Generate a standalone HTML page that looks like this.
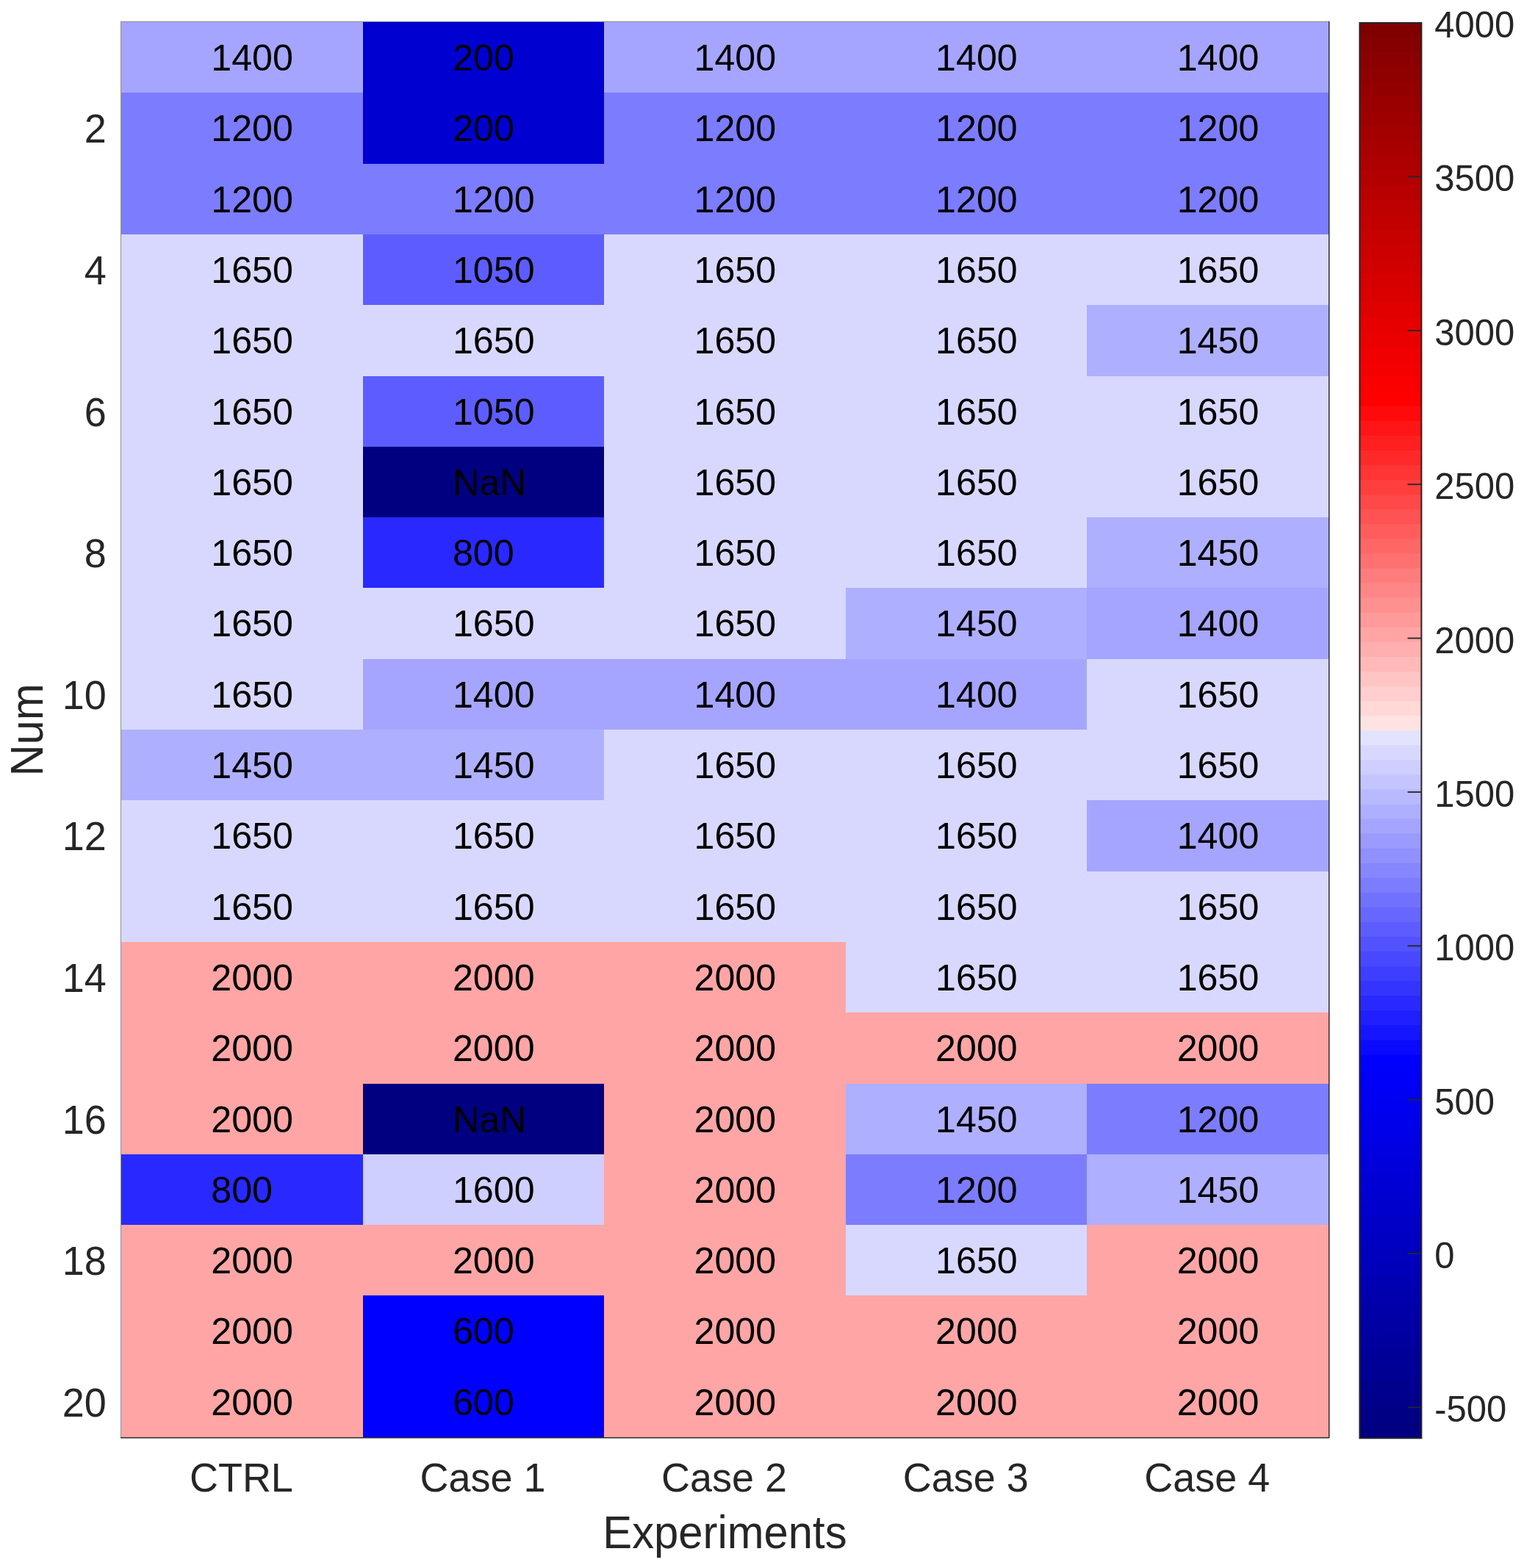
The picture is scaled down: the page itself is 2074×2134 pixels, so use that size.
<!DOCTYPE html>
<html><head><meta charset="utf-8"><title>Heatmap</title>
<style>
html,body{margin:0;padding:0;background:#fff;}
body{width:2074px;height:2134px;overflow:hidden;}
svg{display:block;}
text{font-family:"Liberation Sans",Arial,Helvetica,sans-serif;}
</style></head><body>
<svg width="2074" height="2134" viewBox="0 0 2074 2134" shape-rendering="crispEdges">
<rect width="2074" height="2134" fill="#fff"/>
<g><rect x="165.00" y="30.00" width="328.62" height="96.32" fill="#a5a5ff"/>
<rect x="493.60" y="30.00" width="328.62" height="96.32" fill="#0000d1"/>
<rect x="822.20" y="30.00" width="328.62" height="96.32" fill="#a5a5ff"/>
<rect x="1150.80" y="30.00" width="328.62" height="96.32" fill="#a5a5ff"/>
<rect x="1479.40" y="30.00" width="328.62" height="96.32" fill="#a5a5ff"/>
<rect x="165.00" y="126.30" width="328.62" height="96.32" fill="#7c7cff"/>
<rect x="493.60" y="126.30" width="328.62" height="96.32" fill="#0000d1"/>
<rect x="822.20" y="126.30" width="328.62" height="96.32" fill="#7c7cff"/>
<rect x="1150.80" y="126.30" width="328.62" height="96.32" fill="#7c7cff"/>
<rect x="1479.40" y="126.30" width="328.62" height="96.32" fill="#7c7cff"/>
<rect x="165.00" y="222.60" width="328.62" height="96.32" fill="#7c7cff"/>
<rect x="493.60" y="222.60" width="328.62" height="96.32" fill="#7c7cff"/>
<rect x="822.20" y="222.60" width="328.62" height="96.32" fill="#7c7cff"/>
<rect x="1150.80" y="222.60" width="328.62" height="96.32" fill="#7c7cff"/>
<rect x="1479.40" y="222.60" width="328.62" height="96.32" fill="#7c7cff"/>
<rect x="165.00" y="318.90" width="328.62" height="96.32" fill="#d8d8ff"/>
<rect x="493.60" y="318.90" width="328.62" height="96.32" fill="#5d5dff"/>
<rect x="822.20" y="318.90" width="328.62" height="96.32" fill="#d8d8ff"/>
<rect x="1150.80" y="318.90" width="328.62" height="96.32" fill="#d8d8ff"/>
<rect x="1479.40" y="318.90" width="328.62" height="96.32" fill="#d8d8ff"/>
<rect x="165.00" y="415.20" width="328.62" height="96.32" fill="#d8d8ff"/>
<rect x="493.60" y="415.20" width="328.62" height="96.32" fill="#d8d8ff"/>
<rect x="822.20" y="415.20" width="328.62" height="96.32" fill="#d8d8ff"/>
<rect x="1150.80" y="415.20" width="328.62" height="96.32" fill="#d8d8ff"/>
<rect x="1479.40" y="415.20" width="328.62" height="96.32" fill="#afafff"/>
<rect x="165.00" y="511.50" width="328.62" height="96.32" fill="#d8d8ff"/>
<rect x="493.60" y="511.50" width="328.62" height="96.32" fill="#5d5dff"/>
<rect x="822.20" y="511.50" width="328.62" height="96.32" fill="#d8d8ff"/>
<rect x="1150.80" y="511.50" width="328.62" height="96.32" fill="#d8d8ff"/>
<rect x="1479.40" y="511.50" width="328.62" height="96.32" fill="#d8d8ff"/>
<rect x="165.00" y="607.80" width="328.62" height="96.32" fill="#d8d8ff"/>
<rect x="493.60" y="607.80" width="328.62" height="96.32" fill="#000080"/>
<rect x="822.20" y="607.80" width="328.62" height="96.32" fill="#d8d8ff"/>
<rect x="1150.80" y="607.80" width="328.62" height="96.32" fill="#d8d8ff"/>
<rect x="1479.40" y="607.80" width="328.62" height="96.32" fill="#d8d8ff"/>
<rect x="165.00" y="704.10" width="328.62" height="96.32" fill="#d8d8ff"/>
<rect x="493.60" y="704.10" width="328.62" height="96.32" fill="#2929ff"/>
<rect x="822.20" y="704.10" width="328.62" height="96.32" fill="#d8d8ff"/>
<rect x="1150.80" y="704.10" width="328.62" height="96.32" fill="#d8d8ff"/>
<rect x="1479.40" y="704.10" width="328.62" height="96.32" fill="#afafff"/>
<rect x="165.00" y="800.40" width="328.62" height="96.32" fill="#d8d8ff"/>
<rect x="493.60" y="800.40" width="328.62" height="96.32" fill="#d8d8ff"/>
<rect x="822.20" y="800.40" width="328.62" height="96.32" fill="#d8d8ff"/>
<rect x="1150.80" y="800.40" width="328.62" height="96.32" fill="#afafff"/>
<rect x="1479.40" y="800.40" width="328.62" height="96.32" fill="#a5a5ff"/>
<rect x="165.00" y="896.70" width="328.62" height="96.32" fill="#d8d8ff"/>
<rect x="493.60" y="896.70" width="328.62" height="96.32" fill="#a5a5ff"/>
<rect x="822.20" y="896.70" width="328.62" height="96.32" fill="#a5a5ff"/>
<rect x="1150.80" y="896.70" width="328.62" height="96.32" fill="#a5a5ff"/>
<rect x="1479.40" y="896.70" width="328.62" height="96.32" fill="#d8d8ff"/>
<rect x="165.00" y="993.00" width="328.62" height="96.32" fill="#afafff"/>
<rect x="493.60" y="993.00" width="328.62" height="96.32" fill="#afafff"/>
<rect x="822.20" y="993.00" width="328.62" height="96.32" fill="#d8d8ff"/>
<rect x="1150.80" y="993.00" width="328.62" height="96.32" fill="#d8d8ff"/>
<rect x="1479.40" y="993.00" width="328.62" height="96.32" fill="#d8d8ff"/>
<rect x="165.00" y="1089.30" width="328.62" height="96.32" fill="#d8d8ff"/>
<rect x="493.60" y="1089.30" width="328.62" height="96.32" fill="#d8d8ff"/>
<rect x="822.20" y="1089.30" width="328.62" height="96.32" fill="#d8d8ff"/>
<rect x="1150.80" y="1089.30" width="328.62" height="96.32" fill="#d8d8ff"/>
<rect x="1479.40" y="1089.30" width="328.62" height="96.32" fill="#a5a5ff"/>
<rect x="165.00" y="1185.60" width="328.62" height="96.32" fill="#d8d8ff"/>
<rect x="493.60" y="1185.60" width="328.62" height="96.32" fill="#d8d8ff"/>
<rect x="822.20" y="1185.60" width="328.62" height="96.32" fill="#d8d8ff"/>
<rect x="1150.80" y="1185.60" width="328.62" height="96.32" fill="#d8d8ff"/>
<rect x="1479.40" y="1185.60" width="328.62" height="96.32" fill="#d8d8ff"/>
<rect x="165.00" y="1281.90" width="328.62" height="96.32" fill="#ffa5a5"/>
<rect x="493.60" y="1281.90" width="328.62" height="96.32" fill="#ffa5a5"/>
<rect x="822.20" y="1281.90" width="328.62" height="96.32" fill="#ffa5a5"/>
<rect x="1150.80" y="1281.90" width="328.62" height="96.32" fill="#d8d8ff"/>
<rect x="1479.40" y="1281.90" width="328.62" height="96.32" fill="#d8d8ff"/>
<rect x="165.00" y="1378.20" width="328.62" height="96.32" fill="#ffa5a5"/>
<rect x="493.60" y="1378.20" width="328.62" height="96.32" fill="#ffa5a5"/>
<rect x="822.20" y="1378.20" width="328.62" height="96.32" fill="#ffa5a5"/>
<rect x="1150.80" y="1378.20" width="328.62" height="96.32" fill="#ffa5a5"/>
<rect x="1479.40" y="1378.20" width="328.62" height="96.32" fill="#ffa5a5"/>
<rect x="165.00" y="1474.50" width="328.62" height="96.32" fill="#ffa5a5"/>
<rect x="493.60" y="1474.50" width="328.62" height="96.32" fill="#000080"/>
<rect x="822.20" y="1474.50" width="328.62" height="96.32" fill="#ffa5a5"/>
<rect x="1150.80" y="1474.50" width="328.62" height="96.32" fill="#afafff"/>
<rect x="1479.40" y="1474.50" width="328.62" height="96.32" fill="#7c7cff"/>
<rect x="165.00" y="1570.80" width="328.62" height="96.32" fill="#2929ff"/>
<rect x="493.60" y="1570.80" width="328.62" height="96.32" fill="#ceceff"/>
<rect x="822.20" y="1570.80" width="328.62" height="96.32" fill="#ffa5a5"/>
<rect x="1150.80" y="1570.80" width="328.62" height="96.32" fill="#7c7cff"/>
<rect x="1479.40" y="1570.80" width="328.62" height="96.32" fill="#afafff"/>
<rect x="165.00" y="1667.10" width="328.62" height="96.32" fill="#ffa5a5"/>
<rect x="493.60" y="1667.10" width="328.62" height="96.32" fill="#ffa5a5"/>
<rect x="822.20" y="1667.10" width="328.62" height="96.32" fill="#ffa5a5"/>
<rect x="1150.80" y="1667.10" width="328.62" height="96.32" fill="#d8d8ff"/>
<rect x="1479.40" y="1667.10" width="328.62" height="96.32" fill="#ffa5a5"/>
<rect x="165.00" y="1763.40" width="328.62" height="96.32" fill="#ffa5a5"/>
<rect x="493.60" y="1763.40" width="328.62" height="96.32" fill="#0000ff"/>
<rect x="822.20" y="1763.40" width="328.62" height="96.32" fill="#ffa5a5"/>
<rect x="1150.80" y="1763.40" width="328.62" height="96.32" fill="#ffa5a5"/>
<rect x="1479.40" y="1763.40" width="328.62" height="96.32" fill="#ffa5a5"/>
<rect x="165.00" y="1859.70" width="328.62" height="96.32" fill="#ffa5a5"/>
<rect x="493.60" y="1859.70" width="328.62" height="96.32" fill="#0000ff"/>
<rect x="822.20" y="1859.70" width="328.62" height="96.32" fill="#ffa5a5"/>
<rect x="1150.80" y="1859.70" width="328.62" height="96.32" fill="#ffa5a5"/>
<rect x="1479.40" y="1859.70" width="328.62" height="96.32" fill="#ffa5a5"/></g>
<g shape-rendering="auto"><rect x="164" y="29" width="1645" height="1" fill="#8e8e8e"/>
<rect x="164" y="29" width="1" height="1928" fill="#8e8e8e"/>
<rect x="1808" y="29" width="1" height="1928" fill="#262626"/>
<rect x="164" y="1956" width="1645" height="1" fill="#262626"/>
<rect x="1809" y="29" width="1" height="1928" fill="#9a9a9a"/>
<rect x="164" y="1957" width="1645" height="1" fill="#9a9a9a"/></g>
<g fill="#000" font-size="50.2"><text transform="translate(287.30 96.05) scale(1 1.010)">1400</text>
<text transform="translate(615.90 96.05) scale(1 1.010)">200</text>
<text transform="translate(944.50 96.05) scale(1 1.010)">1400</text>
<text transform="translate(1273.10 96.05) scale(1 1.010)">1400</text>
<text transform="translate(1601.70 96.05) scale(1 1.010)">1400</text>
<text transform="translate(287.30 192.35) scale(1 1.010)">1200</text>
<text transform="translate(615.90 192.35) scale(1 1.010)">200</text>
<text transform="translate(944.50 192.35) scale(1 1.010)">1200</text>
<text transform="translate(1273.10 192.35) scale(1 1.010)">1200</text>
<text transform="translate(1601.70 192.35) scale(1 1.010)">1200</text>
<text transform="translate(287.30 288.65) scale(1 1.010)">1200</text>
<text transform="translate(615.90 288.65) scale(1 1.010)">1200</text>
<text transform="translate(944.50 288.65) scale(1 1.010)">1200</text>
<text transform="translate(1273.10 288.65) scale(1 1.010)">1200</text>
<text transform="translate(1601.70 288.65) scale(1 1.010)">1200</text>
<text transform="translate(287.30 384.95) scale(1 1.010)">1650</text>
<text transform="translate(615.90 384.95) scale(1 1.010)">1050</text>
<text transform="translate(944.50 384.95) scale(1 1.010)">1650</text>
<text transform="translate(1273.10 384.95) scale(1 1.010)">1650</text>
<text transform="translate(1601.70 384.95) scale(1 1.010)">1650</text>
<text transform="translate(287.30 481.25) scale(1 1.010)">1650</text>
<text transform="translate(615.90 481.25) scale(1 1.010)">1650</text>
<text transform="translate(944.50 481.25) scale(1 1.010)">1650</text>
<text transform="translate(1273.10 481.25) scale(1 1.010)">1650</text>
<text transform="translate(1601.70 481.25) scale(1 1.010)">1450</text>
<text transform="translate(287.30 577.55) scale(1 1.010)">1650</text>
<text transform="translate(615.90 577.55) scale(1 1.010)">1050</text>
<text transform="translate(944.50 577.55) scale(1 1.010)">1650</text>
<text transform="translate(1273.10 577.55) scale(1 1.010)">1650</text>
<text transform="translate(1601.70 577.55) scale(1 1.010)">1650</text>
<text transform="translate(287.30 673.85) scale(1 1.010)">1650</text>
<text transform="translate(615.90 673.85) scale(1 1.010)">NaN</text>
<text transform="translate(944.50 673.85) scale(1 1.010)">1650</text>
<text transform="translate(1273.10 673.85) scale(1 1.010)">1650</text>
<text transform="translate(1601.70 673.85) scale(1 1.010)">1650</text>
<text transform="translate(287.30 770.15) scale(1 1.010)">1650</text>
<text transform="translate(615.90 770.15) scale(1 1.010)">800</text>
<text transform="translate(944.50 770.15) scale(1 1.010)">1650</text>
<text transform="translate(1273.10 770.15) scale(1 1.010)">1650</text>
<text transform="translate(1601.70 770.15) scale(1 1.010)">1450</text>
<text transform="translate(287.30 866.45) scale(1 1.010)">1650</text>
<text transform="translate(615.90 866.45) scale(1 1.010)">1650</text>
<text transform="translate(944.50 866.45) scale(1 1.010)">1650</text>
<text transform="translate(1273.10 866.45) scale(1 1.010)">1450</text>
<text transform="translate(1601.70 866.45) scale(1 1.010)">1400</text>
<text transform="translate(287.30 962.75) scale(1 1.010)">1650</text>
<text transform="translate(615.90 962.75) scale(1 1.010)">1400</text>
<text transform="translate(944.50 962.75) scale(1 1.010)">1400</text>
<text transform="translate(1273.10 962.75) scale(1 1.010)">1400</text>
<text transform="translate(1601.70 962.75) scale(1 1.010)">1650</text>
<text transform="translate(287.30 1059.05) scale(1 1.010)">1450</text>
<text transform="translate(615.90 1059.05) scale(1 1.010)">1450</text>
<text transform="translate(944.50 1059.05) scale(1 1.010)">1650</text>
<text transform="translate(1273.10 1059.05) scale(1 1.010)">1650</text>
<text transform="translate(1601.70 1059.05) scale(1 1.010)">1650</text>
<text transform="translate(287.30 1155.35) scale(1 1.010)">1650</text>
<text transform="translate(615.90 1155.35) scale(1 1.010)">1650</text>
<text transform="translate(944.50 1155.35) scale(1 1.010)">1650</text>
<text transform="translate(1273.10 1155.35) scale(1 1.010)">1650</text>
<text transform="translate(1601.70 1155.35) scale(1 1.010)">1400</text>
<text transform="translate(287.30 1251.65) scale(1 1.010)">1650</text>
<text transform="translate(615.90 1251.65) scale(1 1.010)">1650</text>
<text transform="translate(944.50 1251.65) scale(1 1.010)">1650</text>
<text transform="translate(1273.10 1251.65) scale(1 1.010)">1650</text>
<text transform="translate(1601.70 1251.65) scale(1 1.010)">1650</text>
<text transform="translate(287.30 1347.95) scale(1 1.010)">2000</text>
<text transform="translate(615.90 1347.95) scale(1 1.010)">2000</text>
<text transform="translate(944.50 1347.95) scale(1 1.010)">2000</text>
<text transform="translate(1273.10 1347.95) scale(1 1.010)">1650</text>
<text transform="translate(1601.70 1347.95) scale(1 1.010)">1650</text>
<text transform="translate(287.30 1444.25) scale(1 1.010)">2000</text>
<text transform="translate(615.90 1444.25) scale(1 1.010)">2000</text>
<text transform="translate(944.50 1444.25) scale(1 1.010)">2000</text>
<text transform="translate(1273.10 1444.25) scale(1 1.010)">2000</text>
<text transform="translate(1601.70 1444.25) scale(1 1.010)">2000</text>
<text transform="translate(287.30 1540.55) scale(1 1.010)">2000</text>
<text transform="translate(615.90 1540.55) scale(1 1.010)">NaN</text>
<text transform="translate(944.50 1540.55) scale(1 1.010)">2000</text>
<text transform="translate(1273.10 1540.55) scale(1 1.010)">1450</text>
<text transform="translate(1601.70 1540.55) scale(1 1.010)">1200</text>
<text transform="translate(287.30 1636.85) scale(1 1.010)">800</text>
<text transform="translate(615.90 1636.85) scale(1 1.010)">1600</text>
<text transform="translate(944.50 1636.85) scale(1 1.010)">2000</text>
<text transform="translate(1273.10 1636.85) scale(1 1.010)">1200</text>
<text transform="translate(1601.70 1636.85) scale(1 1.010)">1450</text>
<text transform="translate(287.30 1733.15) scale(1 1.010)">2000</text>
<text transform="translate(615.90 1733.15) scale(1 1.010)">2000</text>
<text transform="translate(944.50 1733.15) scale(1 1.010)">2000</text>
<text transform="translate(1273.10 1733.15) scale(1 1.010)">1650</text>
<text transform="translate(1601.70 1733.15) scale(1 1.010)">2000</text>
<text transform="translate(287.30 1829.45) scale(1 1.010)">2000</text>
<text transform="translate(615.90 1829.45) scale(1 1.010)">600</text>
<text transform="translate(944.50 1829.45) scale(1 1.010)">2000</text>
<text transform="translate(1273.10 1829.45) scale(1 1.010)">2000</text>
<text transform="translate(1601.70 1829.45) scale(1 1.010)">2000</text>
<text transform="translate(287.30 1925.75) scale(1 1.010)">2000</text>
<text transform="translate(615.90 1925.75) scale(1 1.010)">600</text>
<text transform="translate(944.50 1925.75) scale(1 1.010)">2000</text>
<text transform="translate(1273.10 1925.75) scale(1 1.010)">2000</text>
<text transform="translate(1601.70 1925.75) scale(1 1.010)">2000</text></g>
<g fill="#262626" font-size="54" text-anchor="end"><text transform="translate(144.80 194.35) scale(1 1.045)">2</text>
<text transform="translate(144.80 386.95) scale(1 1.045)">4</text>
<text transform="translate(144.80 579.55) scale(1 1.045)">6</text>
<text transform="translate(144.80 772.15) scale(1 1.045)">8</text>
<text transform="translate(144.80 964.75) scale(1 1.045)">10</text>
<text transform="translate(144.80 1157.35) scale(1 1.045)">12</text>
<text transform="translate(144.80 1349.95) scale(1 1.045)">14</text>
<text transform="translate(144.80 1542.55) scale(1 1.045)">16</text>
<text transform="translate(144.80 1735.15) scale(1 1.045)">18</text>
<text transform="translate(144.80 1927.75) scale(1 1.045)">20</text></g>
<g fill="#262626" font-size="54" text-anchor="middle"><text transform="translate(328.40 2029.80) scale(1 1.045)">CTRL</text>
<text transform="translate(657.00 2029.80) scale(1 1.045)">Case 1</text>
<text transform="translate(985.60 2029.80) scale(1 1.045)">Case 2</text>
<text transform="translate(1314.20 2029.80) scale(1 1.045)">Case 3</text>
<text transform="translate(1642.80 2029.80) scale(1 1.045)">Case 4</text></g>
<g fill="#262626" font-size="59.8" text-anchor="middle"><text transform="translate(986.40 2106.80) scale(1 1.040)">Experiments</text>
<text transform="translate(58 993.5) rotate(-90) scale(1 1.040)">Num</text></g>
<g shape-rendering="auto"><rect x="1850.4" y="1936.24" width="84.0" height="21.06" fill="#000080"/>
<rect x="1850.4" y="1916.17" width="84.0" height="21.06" fill="#000085"/>
<rect x="1850.4" y="1896.11" width="84.0" height="21.06" fill="#00008a"/>
<rect x="1850.4" y="1876.04" width="84.0" height="21.06" fill="#00008f"/>
<rect x="1850.4" y="1855.98" width="84.0" height="21.06" fill="#000094"/>
<rect x="1850.4" y="1835.91" width="84.0" height="21.06" fill="#000099"/>
<rect x="1850.4" y="1815.85" width="84.0" height="21.06" fill="#00009e"/>
<rect x="1850.4" y="1795.78" width="84.0" height="21.06" fill="#0000a3"/>
<rect x="1850.4" y="1775.72" width="84.0" height="21.06" fill="#0000a8"/>
<rect x="1850.4" y="1755.65" width="84.0" height="21.06" fill="#0000ad"/>
<rect x="1850.4" y="1735.59" width="84.0" height="21.06" fill="#0000b2"/>
<rect x="1850.4" y="1715.52" width="84.0" height="21.06" fill="#0000b8"/>
<rect x="1850.4" y="1695.46" width="84.0" height="21.06" fill="#0000bd"/>
<rect x="1850.4" y="1675.40" width="84.0" height="21.06" fill="#0000c2"/>
<rect x="1850.4" y="1655.33" width="84.0" height="21.06" fill="#0000c7"/>
<rect x="1850.4" y="1635.27" width="84.0" height="21.06" fill="#0000cc"/>
<rect x="1850.4" y="1615.20" width="84.0" height="21.06" fill="#0000d1"/>
<rect x="1850.4" y="1595.14" width="84.0" height="21.06" fill="#0000d6"/>
<rect x="1850.4" y="1575.07" width="84.0" height="21.06" fill="#0000db"/>
<rect x="1850.4" y="1555.01" width="84.0" height="21.06" fill="#0000e0"/>
<rect x="1850.4" y="1534.94" width="84.0" height="21.06" fill="#0000e6"/>
<rect x="1850.4" y="1514.88" width="84.0" height="21.06" fill="#0000eb"/>
<rect x="1850.4" y="1494.81" width="84.0" height="21.06" fill="#0000f0"/>
<rect x="1850.4" y="1474.75" width="84.0" height="21.06" fill="#0000f5"/>
<rect x="1850.4" y="1454.69" width="84.0" height="21.06" fill="#0000fa"/>
<rect x="1850.4" y="1434.62" width="84.0" height="21.06" fill="#0000ff"/>
<rect x="1850.4" y="1414.56" width="84.0" height="21.06" fill="#0a0aff"/>
<rect x="1850.4" y="1394.49" width="84.0" height="21.06" fill="#1515ff"/>
<rect x="1850.4" y="1374.43" width="84.0" height="21.06" fill="#1f1fff"/>
<rect x="1850.4" y="1354.36" width="84.0" height="21.06" fill="#2929ff"/>
<rect x="1850.4" y="1334.30" width="84.0" height="21.06" fill="#3434ff"/>
<rect x="1850.4" y="1314.23" width="84.0" height="21.06" fill="#3e3eff"/>
<rect x="1850.4" y="1294.17" width="84.0" height="21.06" fill="#4848ff"/>
<rect x="1850.4" y="1274.10" width="84.0" height="21.06" fill="#5252ff"/>
<rect x="1850.4" y="1254.04" width="84.0" height="21.06" fill="#5d5dff"/>
<rect x="1850.4" y="1233.97" width="84.0" height="21.06" fill="#6767ff"/>
<rect x="1850.4" y="1213.91" width="84.0" height="21.06" fill="#7171ff"/>
<rect x="1850.4" y="1193.85" width="84.0" height="21.06" fill="#7c7cff"/>
<rect x="1850.4" y="1173.78" width="84.0" height="21.06" fill="#8686ff"/>
<rect x="1850.4" y="1153.72" width="84.0" height="21.06" fill="#9090ff"/>
<rect x="1850.4" y="1133.65" width="84.0" height="21.06" fill="#9a9aff"/>
<rect x="1850.4" y="1113.59" width="84.0" height="21.06" fill="#a5a5ff"/>
<rect x="1850.4" y="1093.52" width="84.0" height="21.06" fill="#afafff"/>
<rect x="1850.4" y="1073.46" width="84.0" height="21.06" fill="#b9b9ff"/>
<rect x="1850.4" y="1053.39" width="84.0" height="21.06" fill="#c4c4ff"/>
<rect x="1850.4" y="1033.33" width="84.0" height="21.06" fill="#ceceff"/>
<rect x="1850.4" y="1013.26" width="84.0" height="21.06" fill="#d8d8ff"/>
<rect x="1850.4" y="993.20" width="84.0" height="21.06" fill="#e3e3ff"/>
<rect x="1850.4" y="973.14" width="84.0" height="21.06" fill="#ffe3e3"/>
<rect x="1850.4" y="953.07" width="84.0" height="21.06" fill="#ffd8d8"/>
<rect x="1850.4" y="933.01" width="84.0" height="21.06" fill="#ffcece"/>
<rect x="1850.4" y="912.94" width="84.0" height="21.06" fill="#ffc4c4"/>
<rect x="1850.4" y="892.88" width="84.0" height="21.06" fill="#ffb9b9"/>
<rect x="1850.4" y="872.81" width="84.0" height="21.06" fill="#ffafaf"/>
<rect x="1850.4" y="852.75" width="84.0" height="21.06" fill="#ffa5a5"/>
<rect x="1850.4" y="832.68" width="84.0" height="21.06" fill="#ff9a9a"/>
<rect x="1850.4" y="812.62" width="84.0" height="21.06" fill="#ff9090"/>
<rect x="1850.4" y="792.55" width="84.0" height="21.06" fill="#ff8686"/>
<rect x="1850.4" y="772.49" width="84.0" height="21.06" fill="#ff7c7c"/>
<rect x="1850.4" y="752.42" width="84.0" height="21.06" fill="#ff7171"/>
<rect x="1850.4" y="732.36" width="84.0" height="21.06" fill="#ff6767"/>
<rect x="1850.4" y="712.30" width="84.0" height="21.06" fill="#ff5d5d"/>
<rect x="1850.4" y="692.23" width="84.0" height="21.06" fill="#ff5252"/>
<rect x="1850.4" y="672.17" width="84.0" height="21.06" fill="#ff4848"/>
<rect x="1850.4" y="652.10" width="84.0" height="21.06" fill="#ff3e3e"/>
<rect x="1850.4" y="632.04" width="84.0" height="21.06" fill="#ff3434"/>
<rect x="1850.4" y="611.97" width="84.0" height="21.06" fill="#ff2929"/>
<rect x="1850.4" y="591.91" width="84.0" height="21.06" fill="#ff1f1f"/>
<rect x="1850.4" y="571.84" width="84.0" height="21.06" fill="#ff1515"/>
<rect x="1850.4" y="551.78" width="84.0" height="21.06" fill="#ff0a0a"/>
<rect x="1850.4" y="531.71" width="84.0" height="21.06" fill="#ff0000"/>
<rect x="1850.4" y="511.65" width="84.0" height="21.06" fill="#fa0000"/>
<rect x="1850.4" y="491.59" width="84.0" height="21.06" fill="#f50000"/>
<rect x="1850.4" y="471.52" width="84.0" height="21.06" fill="#f00000"/>
<rect x="1850.4" y="451.46" width="84.0" height="21.06" fill="#eb0000"/>
<rect x="1850.4" y="431.39" width="84.0" height="21.06" fill="#e60000"/>
<rect x="1850.4" y="411.33" width="84.0" height="21.06" fill="#e00000"/>
<rect x="1850.4" y="391.26" width="84.0" height="21.06" fill="#db0000"/>
<rect x="1850.4" y="371.20" width="84.0" height="21.06" fill="#d60000"/>
<rect x="1850.4" y="351.13" width="84.0" height="21.06" fill="#d10000"/>
<rect x="1850.4" y="331.07" width="84.0" height="21.06" fill="#cc0000"/>
<rect x="1850.4" y="311.00" width="84.0" height="21.06" fill="#c70000"/>
<rect x="1850.4" y="290.94" width="84.0" height="21.06" fill="#c20000"/>
<rect x="1850.4" y="270.87" width="84.0" height="21.06" fill="#bd0000"/>
<rect x="1850.4" y="250.81" width="84.0" height="21.06" fill="#b80000"/>
<rect x="1850.4" y="230.75" width="84.0" height="21.06" fill="#b20000"/>
<rect x="1850.4" y="210.68" width="84.0" height="21.06" fill="#ad0000"/>
<rect x="1850.4" y="190.62" width="84.0" height="21.06" fill="#a80000"/>
<rect x="1850.4" y="170.55" width="84.0" height="21.06" fill="#a30000"/>
<rect x="1850.4" y="150.49" width="84.0" height="21.06" fill="#9e0000"/>
<rect x="1850.4" y="130.42" width="84.0" height="21.06" fill="#990000"/>
<rect x="1850.4" y="110.36" width="84.0" height="21.06" fill="#940000"/>
<rect x="1850.4" y="90.29" width="84.0" height="21.06" fill="#8f0000"/>
<rect x="1850.4" y="70.23" width="84.0" height="21.06" fill="#8a0000"/>
<rect x="1850.4" y="50.16" width="84.0" height="21.06" fill="#850000"/>
<rect x="1850.4" y="31.10" width="84.0" height="20.06" fill="#800000"/>
<rect x="1850.4" y="31.1" width="84.0" height="1926.2" fill="none" stroke="#262626" stroke-width="2"/>
<rect x="1915.6" y="1914.53" width="18.8" height="1.8" fill="#262626"/>
<rect x="1915.6" y="1705.16" width="18.8" height="1.8" fill="#262626"/>
<rect x="1915.6" y="1495.79" width="18.8" height="1.8" fill="#262626"/>
<rect x="1915.6" y="1286.42" width="18.8" height="1.8" fill="#262626"/>
<rect x="1915.6" y="1077.05" width="18.8" height="1.8" fill="#262626"/>
<rect x="1915.6" y="867.68" width="18.8" height="1.8" fill="#262626"/>
<rect x="1915.6" y="658.31" width="18.8" height="1.8" fill="#262626"/>
<rect x="1915.6" y="448.94" width="18.8" height="1.8" fill="#262626"/>
<rect x="1915.6" y="239.57" width="18.8" height="1.8" fill="#262626"/></g>
<g fill="#262626" font-size="49"><text transform="translate(1952.30 1935.43) scale(1 1.014)">-500</text>
<text transform="translate(1952.30 1726.06) scale(1 1.014)">0</text>
<text transform="translate(1952.30 1516.69) scale(1 1.014)">500</text>
<text transform="translate(1952.30 1307.32) scale(1 1.014)">1000</text>
<text transform="translate(1952.30 1097.95) scale(1 1.014)">1500</text>
<text transform="translate(1952.30 888.58) scale(1 1.014)">2000</text>
<text transform="translate(1952.30 679.21) scale(1 1.014)">2500</text>
<text transform="translate(1952.30 469.84) scale(1 1.014)">3000</text>
<text transform="translate(1952.30 260.47) scale(1 1.014)">3500</text>
<text transform="translate(1952.30 51.10) scale(1 1.014)">4000</text></g>
</svg>
</body></html>
